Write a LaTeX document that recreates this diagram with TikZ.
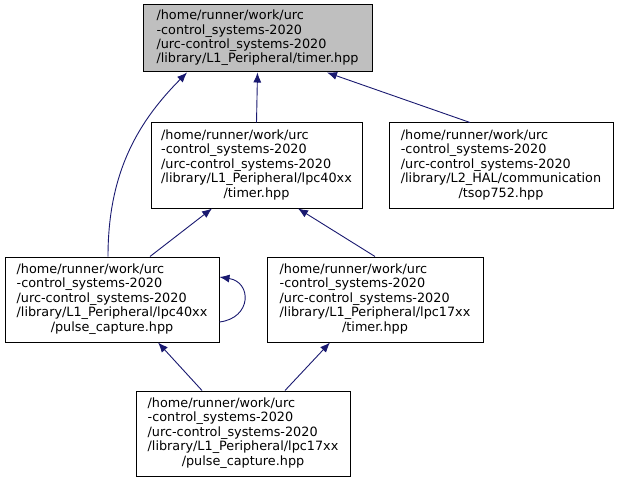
\documentclass[tikz,border=0pt]{standalone}
\usepackage{fontspec}
\setmainfont{DejaVu Sans}
\usetikzlibrary{arrows.meta}
\definecolor{edgeblue}{HTML}{191970}
\definecolor{rootgray}{HTML}{BFBFBF}

\begin{document}
\begin{tikzpicture}[x=1pt,y=-1pt,
    file/.style={draw, line width=1pt, inner sep=0pt, font=\fontsize{12.8}{14.4}\selectfont},
    dep/.style={draw=edgeblue, line width=0.9pt, -{Latex[length=10pt,width=8pt]}}]
        \useasboundingbox (0,0) rectangle (620,481);

        \node[file, fill=rootgray, minimum width=229pt, minimum height=67pt] (timer) at (257.5,38.5)
            {\begin{tabular}{@{}l@{}}/home/runner/work/urc\\-control\_systems-2020\\/urc-control\_systems-2020\\/library/L1\_Peripheral/timer.hpp\end{tabular}};
        \node[file, minimum width=211pt, minimum height=85pt] (t40) at (256.5,165.5)
            {\begin{tabular}{@{}l@{}}/home/runner/work/urc\\-control\_systems-2020\\/urc-control\_systems-2020\\/library/L1\_Peripheral/lpc40xx\\\multicolumn{1}{@{}c@{}}{/timer.hpp}\end{tabular}};
        \node[file, minimum width=224pt, minimum height=85pt] (tsop) at (501,165.5)
            {\begin{tabular}{@{}l@{}}/home/runner/work/urc\\-control\_systems-2020\\/urc-control\_systems-2020\\/library/L2\_HAL/communication\\\multicolumn{1}{@{}c@{}}{/tsop752.hpp}\end{tabular}};
        \node[file, minimum width=214pt, minimum height=85pt] (pc40) at (112,299.5)
            {\begin{tabular}{@{}l@{}}/home/runner/work/urc\\-control\_systems-2020\\/urc-control\_systems-2020\\/library/L1\_Peripheral/lpc40xx\\\multicolumn{1}{@{}c@{}}{/pulse\_capture.hpp}\end{tabular}};
        \node[file, minimum width=216pt, minimum height=85pt] (t17) at (375,299.5)
            {\begin{tabular}{@{}l@{}}/home/runner/work/urc\\-control\_systems-2020\\/urc-control\_systems-2020\\/library/L1\_Peripheral/lpc17xx\\\multicolumn{1}{@{}c@{}}{/timer.hpp}\end{tabular}};
        \node[file, minimum width=214pt, minimum height=85pt] (pc17) at (243,433.5)
            {\begin{tabular}{@{}l@{}}/home/runner/work/urc\\-control\_systems-2020\\/urc-control\_systems-2020\\/library/L1\_Peripheral/lpc17xx\\\multicolumn{1}{@{}c@{}}{/pulse\_capture.hpp}\end{tabular}};

        \draw[dep] (t40.north) -- (timer.south);
        \draw[dep] (tsop.north -| 470,0) -- (timer.south -| 327,0);
        \draw[dep] (pc40.north -| 108,0) .. controls (108,170) and (140,120) .. (timer.south -| 187,0);
        \draw[dep] (pc40.north -| 150,0) -- (t40.south -| 212,0);
        \draw[dep] (t17.north -| 375,0) -- (t40.south -| 298,0);
        \draw[dep] (pc40.east |- 0,322) .. controls (252,318) and (252,282) .. (pc40.east |- 0,277);
        \draw[dep] (pc17.north -| 202,0) -- (pc40.south -| 158,0);
        \draw[dep] (pc17.north -| 285,0) -- (t17.south -| 330,0);
\end{tikzpicture}
\end{document}
